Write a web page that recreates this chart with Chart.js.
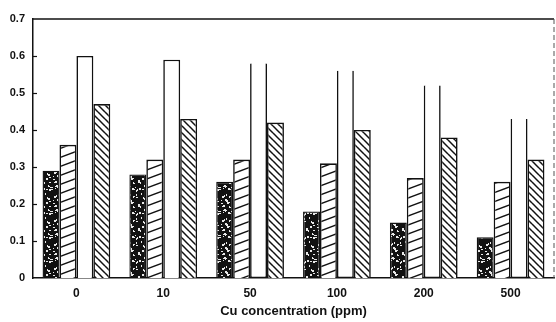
<!DOCTYPE html>
<html>
<head>
<meta charset="utf-8">
<script src="https://cdn.jsdelivr.net/npm/chart.js@4/dist/chart.umd.min.js"></script>
<style>
  html, body { margin: 0; padding: 0; background: #fff; }
  canvas { display: block; }
</style>
</head>
<body>
<canvas id="cuChart" width="556" height="322"></canvas>
<script>
    const categories = ['0', '10', '50', '100', '200', '500'];
    const stippledValues = [0.29, 0.28, 0.26, 0.18, 0.15, 0.11];
    const forwardHatchValues = [0.36, 0.32, 0.32, 0.31, 0.27, 0.26];
    const openValues = [0.60, 0.59, 0.58, 0.56, 0.52, 0.43];
    const backHatchValues = [0.47, 0.43, 0.42, 0.40, 0.38, 0.32];
    const yTicks = [0, 0.1, 0.2, 0.3, 0.4, 0.5, 0.6, 0.7];

    const INK = '#111';
    const FONT = '"Liberation Sans", Arial, sans-serif';

    // dark bar texture: black with a few white specks (fixed seed so it is stable)
    const makeStipple = () => {
        const c = document.createElement('canvas');
        c.width = 24; c.height = 24;
        const g = c.getContext('2d');
        g.fillStyle = INK;
        g.fillRect(0, 0, 24, 24);
        g.fillStyle = '#e8e8e8';
        let seed = 7;
        const next = () => { seed = (seed * 1103515245 + 12345) % 2147483648; return seed / 2147483648; };
        for (let i = 0; i < 45; i++) {
            const w = next() < 0.5 ? 1 : 2;
            g.fillRect(Math.floor(next() * 24), Math.floor(next() * 24), w, 1 + Math.floor(next() * 2));
        }
        return g.createPattern(c, 'repeat');
    };

    // hatch tile: one line from (x1,y1) to (x2,y2), repeated around so tiles join up
    const makeHatch = (w, h, x1, y1, x2, y2, lw) => {
        const c = document.createElement('canvas');
        c.width = w; c.height = h;
        const g = c.getContext('2d');
        g.fillStyle = '#fff';
        g.fillRect(0, 0, w, h);
        g.strokeStyle = INK;
        g.lineWidth = lw;
        [-w, 0, w].forEach((dx) => {
            [-h, 0, h].forEach((dy) => {
                g.beginPath();
                g.moveTo(x1 + dx, y1 + dy);
                g.lineTo(x2 + dx, y2 + dy);
                g.stroke();
            });
        });
        return g.createPattern(c, 'repeat');
    };

    const stipple = makeStipple();
    const forwardHatch = makeHatch(24, 9, 0, 9, 24, 0, 1.4);
    const backHatch = makeHatch(7, 7, 0, 0, 7, 7, 1.5);

    const frame = {
        id: 'frame',
        afterDraw(chart) {
            const { ctx, chartArea } = chart;
            const y = chart.scales.y;
            ctx.save();
            ctx.strokeStyle = INK;
            ctx.lineWidth = 1.3;
            ctx.beginPath();
            ctx.moveTo(chartArea.left, chartArea.top);
            ctx.lineTo(chartArea.right, chartArea.top);
            ctx.stroke();
            ctx.setLineDash([5, 3]);
            ctx.strokeStyle = '#555';
            ctx.lineWidth = 1;
            ctx.beginPath();
            ctx.moveTo(chartArea.right, chartArea.top);
            ctx.lineTo(chartArea.right, chartArea.bottom);
            ctx.stroke();
            ctx.setLineDash([]);
            ctx.strokeStyle = INK;
            ctx.lineWidth = 1.2;
            yTicks.slice(1, -1).forEach((v) => {
                const py = Math.round(y.getPixelForValue(v)) + 0.5;
                ctx.beginPath();
                ctx.moveTo(chartArea.left, py);
                ctx.lineTo(chartArea.left + 4, py);
                ctx.stroke();
            });
            ctx.restore();
        }
    };

    new Chart(document.getElementById('cuChart'), {
        type: 'bar',
        data: {
            labels: categories,
            datasets: [
                { data: stippledValues, backgroundColor: stipple, borderColor: INK, borderWidth: 1.4 },
                { data: forwardHatchValues, backgroundColor: forwardHatch, borderColor: INK, borderWidth: 1.6 },
                {
                    data: openValues,
                    backgroundColor: '#fff',
                    borderColor: INK,
                    borderWidth: 1.6,
                    borderSkipped: (ctx) => (ctx.dataIndex < 2 ? 'start' : 'end')
                },
                { data: backHatchValues, backgroundColor: backHatch, borderColor: INK, borderWidth: 1.6 }
            ]
        },
        options: {
            responsive: false,
            devicePixelRatio: 1,
            animation: false,
            datasets: { bar: { categoryPercentage: 0.78, barPercentage: 1.0 } },
            layout: { padding: { top: 19, right: 2, left: 0, bottom: 0 } },
            scales: {
                x: {
                    grid: { display: false, drawTicks: false },
                    border: { color: INK, width: 1.5 },
                    ticks: { color: INK, padding: 8, font: { family: FONT, size: 12, weight: 'bold' } },
                    title: {
                        display: true,
                        text: 'Cu concentration (ppm)',
                        color: INK,
                        padding: { top: 2, bottom: 3 },
                        font: { family: FONT, size: 13, weight: 'bold' }
                    },
                    afterFit: (scale) => { scale.height = 44; }
                },
                y: {
                    min: 0,
                    max: 0.7,
                    grid: { display: false, drawTicks: false },
                    border: { color: INK, width: 1.5 },
                    afterBuildTicks: (scale) => { scale.ticks = yTicks.map((v) => ({ value: v })); },
                    ticks: {
                        color: INK,
                        padding: 8,
                        font: { family: FONT, size: 11, weight: 'bold' },
                        callback: (v) => (v === 0 ? '0' : Number(v).toFixed(1))
                    },
                    afterFit: (scale) => { scale.width = 33; }
                }
            },
            plugins: {
                legend: { display: false },
                tooltip: { enabled: false }
            }
        },
        plugins: [frame]
    });
</script>
</body>
</html>
